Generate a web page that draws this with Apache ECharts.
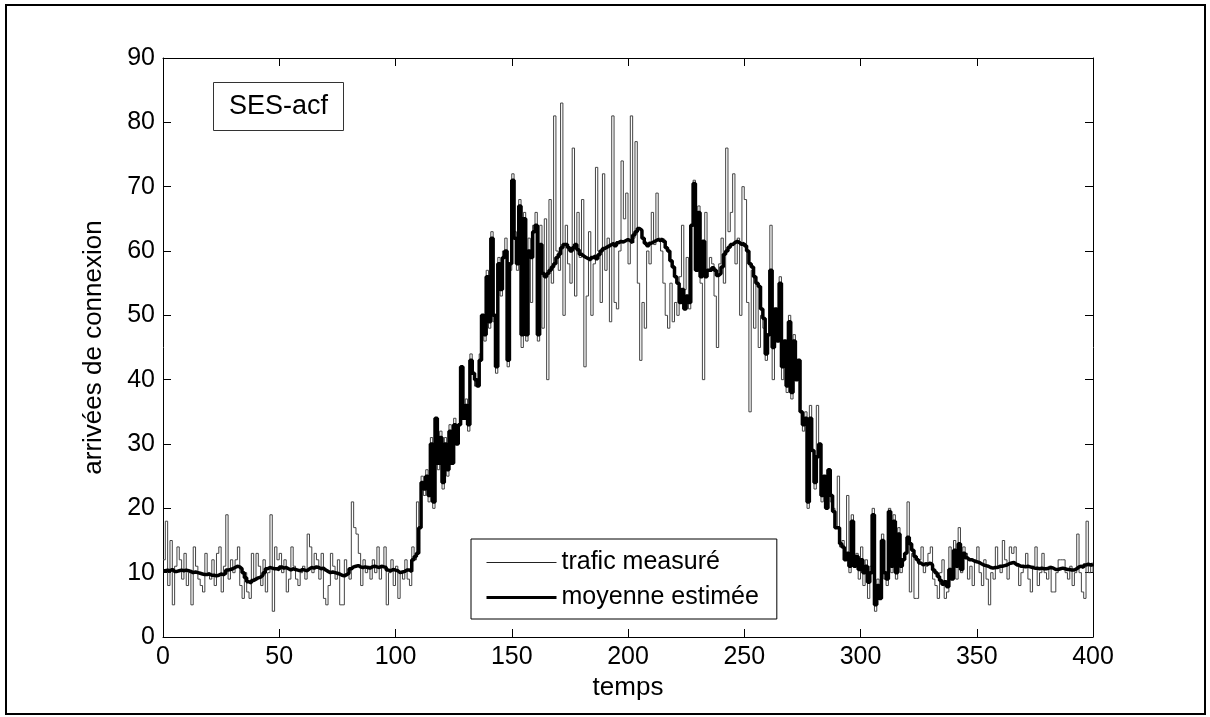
<!DOCTYPE html>
<html>
<head>
<meta charset="utf-8">
<title>SES-acf</title>
<script src="https://cdn.jsdelivr.net/npm/echarts@6/dist/echarts.min.js"></script>
<style>
    html, body { margin: 0; padding: 0; background: #fff; }
    #ses_acf { width: 1210px; height: 717px; }
</style>
</head>
<body>
<div id="ses_acf"></div>
<script>

// Chart data
// ------------------------------

// Mesured traffic, one value per time step (t = 0 .. 400)
var trafic = [
    12, 18, 8, 15, 5, 11, 14, 12, 9, 13,
    8, 10, 5, 14, 11, 9, 8, 7, 13, 10,
    9, 12, 8, 13, 14, 7, 11, 19, 9, 12,
    10, 12, 14, 8, 6, 10, 7, 6, 13, 9,
    13, 11, 8, 12, 7, 10, 19, 4, 14, 12,
    13, 10, 12, 7, 9, 14, 11, 9, 8, 10,
    11, 9, 16, 14, 10, 13, 12, 9, 13, 6,
    5, 8, 13, 11, 9, 12, 5, 5, 12, 10,
    9, 21, 17, 16, 13, 8, 12, 10, 11, 9,
    12, 10, 14, 9, 11, 14, 5, 10, 12, 8,
    11, 6, 10, 9, 12, 9, 8, 14, 12, 21,
    17, 25, 22, 26, 21, 31, 20, 34, 26, 32,
    23, 31, 25, 33, 27, 34, 30, 33, 42, 34,
    37, 32, 44, 41, 39, 39, 44, 50, 46, 57,
    48, 63, 49, 41, 59, 53, 60, 62, 42, 57,
    72, 63, 57, 68, 45, 66, 46, 62, 52, 64,
    66, 46, 64, 48, 65, 40, 68, 55, 81, 60,
    57, 83, 50, 64, 58, 55, 76, 53, 66, 59,
    68, 42, 53, 63, 50, 58, 73, 60, 52, 72,
    57, 62, 49, 81, 52, 51, 60, 74, 65, 69,
    58, 81, 62, 77, 55, 43, 52, 48, 60, 58,
    66, 61, 69, 62, 60, 55, 50, 48, 55, 49,
    52, 50, 56, 64, 54, 59, 51, 64, 71, 58,
    67, 55, 40, 66, 57, 59, 58, 53, 45, 58,
    62, 55, 76, 63, 66, 72, 58, 62, 50, 70,
    68, 52, 35, 57, 48, 55, 45, 50, 48, 43,
    47, 64, 40, 51, 46, 56, 40, 46, 38, 50,
    37, 47, 40, 43, 35, 32, 35, 20, 36, 29,
    23, 36, 30, 21, 25, 21, 26, 21, 20, 17,
    25, 14, 15, 12, 22, 10, 19, 11, 13, 9,
    14, 8, 12, 6, 11, 20, 4, 9, 6, 16,
    9, 8, 20, 10, 19, 9, 17, 10, 12, 13,
    21, 7, 13, 6, 6, 12, 14, 10, 11, 13,
    14, 9, 8, 6, 10, 12, 6, 7, 14, 10,
    15, 9, 17, 10, 14, 13, 9, 11, 8, 12,
    14, 10, 8, 12, 9, 5, 10, 9, 14, 11,
    10, 15, 12, 9, 14, 13, 14, 11, 8, 10,
    11, 13, 9, 7, 11, 14, 8, 10, 13, 10,
    9, 11, 7, 7, 10, 12, 12, 12, 10, 9,
    11, 8, 10, 16, 10, 7, 6, 18, 10, 11,
    10
];

// Estimated mean (SES-acf), same time steps
var moyenne = [
    10.3, 10.4, 10.3, 10.5, 10.2, 10.2, 10.3, 10.4, 10.3, 10.4,
    10.3, 10.2, 10.0, 10.1, 10.0, 9.9, 9.8, 9.7, 9.7, 9.8,
    9.6, 9.6, 9.5, 9.6, 9.8, 9.7, 9.9, 10.4, 10.5, 10.6,
    10.8, 11.0, 10.9, 10.6, 10.0, 9.2, 8.6, 8.4, 8.8, 9.0,
    9.2, 9.3, 9.6, 10.0, 10.6, 10.8, 10.7, 10.6, 10.6, 10.5,
    10.9, 10.7, 10.8, 10.6, 10.4, 10.6, 10.5, 10.4, 10.3, 10.5,
    10.4, 10.3, 10.6, 10.8, 10.7, 10.9, 10.8, 10.6, 10.7, 10.4,
    10.2, 10.0, 10.1, 10.0, 9.9, 9.8, 9.6, 9.5, 9.7, 9.9,
    10.6, 10.9, 11.0, 11.1, 10.9, 10.8, 10.9, 10.8, 10.7, 10.9,
    11.0, 10.9, 10.8, 11.0, 10.9, 10.8, 10.4, 10.3, 10.5, 10.4,
    10.3, 10.0, 10.1, 10.2, 10.4, 10.4, 10.2, 12, 12.5, 13,
    17, 24, 23, 25, 22, 30, 21, 34, 27, 31,
    24, 30, 26, 32, 27, 33, 30, 33, 42, 34,
    36, 33, 43, 41, 40, 39, 43, 50, 47, 56,
    49, 62, 50, 42, 58, 54, 59, 60, 43, 58,
    71, 62, 58, 67, 47, 65, 47, 60, 59, 63,
    64, 47, 61, 56.5, 56, 56.5, 57, 57.5, 58, 59,
    59.5, 60.5, 61, 61, 60.5, 60, 60.5, 61, 60.2, 59.5,
    59.2, 59, 58.8, 58.6, 59, 59.2, 58.8, 59.4, 60, 60.4,
    60.6, 60.8, 61, 61.2, 60.8, 61.3, 61.5, 61.4, 61.6, 61.8,
    61.6, 61.3, 62.5, 63, 63.5, 63.2, 62, 61.2, 60.8, 61.2,
    61.4, 61.6, 61.8, 61.6, 61.9, 61.5, 60.5, 60, 58.5, 57.5,
    56, 55, 52, 54, 51, 53, 52, 64, 70.5, 57,
    66, 56, 61.5, 56, 57, 57, 57.4, 57, 56.2, 56.5,
    57.5, 59.5, 60, 60.6, 61, 61.3, 61.5, 61.3, 61, 61.2,
    60.8, 60, 58, 57.5, 56, 55, 54.5, 51, 49.5, 44,
    47, 57, 45, 51, 46, 55, 42, 46, 39, 49,
    38, 46, 40, 43, 35, 33, 34, 21, 34, 29,
    24, 28, 30, 22, 25, 20, 26, 22, 19.5, 17,
    17, 14.5, 14, 12, 13, 11, 18, 11, 12.5, 10.5,
    12, 10, 11, 8.5, 10, 19, 5, 8, 6, 15,
    10, 9, 19.5, 11, 18, 10, 16, 11, 12, 13,
    15.5, 14.5, 13.5, 12.5, 12, 11.5, 11.2, 11.4, 11.3, 11.5,
    11.2, 10.4, 10, 9.4, 8.8, 8.2, 8.6, 7.8, 10.5, 9,
    13.5, 11, 14.5, 10.5, 13, 12.3, 12, 12, 11.8, 11.7,
    11.6, 11.4, 11.2, 11.1, 11, 10.8, 10.7, 10.8, 10.8, 11,
    11, 11.1, 11.2, 11.4, 11.5, 11.6, 11.3, 11.2, 11, 11,
    10.9, 11, 10.9, 10.8, 10.7, 10.7, 10.6, 10.7, 10.6, 10.6,
    10.7, 10.8, 10.7, 10.5, 10.5, 10.6, 10.7, 10.6, 10.5, 10.5,
    10.4, 10.4, 10.6, 10.9, 11.0, 10.8, 11.2, 11.3, 11.2, 11.3,
    11.3
];

// Axis ticks
var xTicks = [0, 400, 50];   // min, max, interval
var yTicks = [0, 90, 10];

// Series names
var seriesNames = ['trafic measuré', 'moyenne estimée'];


// Setup module
// ------------------------------

var EchartsSesAcf = function() {

    var _sesAcfExample = function() {
        if (typeof echarts == 'undefined') {
            console.warn('Warning - echarts.min.js is not loaded.');
            return;
        }

        // Define element
        var ses_acf_element = document.getElementById('ses_acf');

        if (ses_acf_element) {

            // Initialize chart
            var ses_acf = echarts.init(ses_acf_element, null, { renderer: 'canvas' });

            var fontFamily = '"Liberation Sans", Arial, sans-serif';

            // Pair each value with its time step
            var toPoints = function(values) {
                return values.map(function(v, i) { return [i, v]; });
            };

            // Common axis styles (matlab like box, ticks inside)
            var axisLine = { show: true, onZero: false, lineStyle: { color: '#000', width: 1 } };
            var axisTick = { show: true, inside: true, length: 8, lineStyle: { color: '#000', width: 1 } };
            var axisLabel = { color: '#000', fontSize: 25, fontFamily: fontFamily, margin: 8 };

            // Options
            ses_acf.setOption({

                animation: false,
                backgroundColor: '#fff',

                textStyle: {
                    fontFamily: fontFamily,
                    color: '#000'
                },

                // Setup grid
                grid: {
                    left: 163,
                    right: 117,
                    top: 58,
                    bottom: 80
                },

                // Label box in the corner
                title: {
                    text: 'SES-acf',
                    left: 213,
                    top: 82,
                    padding: [11, 16],
                    borderColor: '#333',
                    borderWidth: 1,
                    backgroundColor: '#fff',
                    textStyle: {
                        fontSize: 27,
                        fontWeight: 'normal',
                        fontFamily: fontFamily,
                        color: '#000'
                    }
                },

                // Legend (line samples only, no marker)
                legend: {
                    orient: 'vertical',
                    left: 471,
                    top: 539,
                    padding: [11, 18, 9, 14],
                    itemGap: 10,
                    itemWidth: 70,
                    itemHeight: 14,
                    borderColor: '#000',
                    borderWidth: 1,
                    backgroundColor: '#fff',
                    itemStyle: { opacity: 0 },
                    textStyle: {
                        fontSize: 25,
                        lineHeight: 25,
                        fontFamily: fontFamily,
                        color: '#000'
                    },
                    data: [
                        { name: seriesNames[0], lineStyle: { color: '#222', width: 1 } },
                        { name: seriesNames[1], lineStyle: { color: '#000', width: 3 } }
                    ]
                },

                // Horizontal axes
                xAxis: [{
                    type: 'value',
                    min: xTicks[0],
                    max: xTicks[1],
                    interval: xTicks[2],
                    position: 'bottom',
                    name: 'temps',
                    nameLocation: 'middle',
                    nameGap: 38,
                    nameTextStyle: { fontSize: 26, color: '#000', fontFamily: fontFamily },
                    axisLine: axisLine,
                    axisTick: axisTick,
                    axisLabel: axisLabel,
                    splitLine: { show: false }
                }, {
                    type: 'value',
                    min: xTicks[0],
                    max: xTicks[1],
                    interval: xTicks[2],
                    position: 'top',
                    axisLine: axisLine,
                    axisTick: axisTick,
                    axisLabel: { show: false },
                    splitLine: { show: false }
                }],

                // Vertical axes
                yAxis: [{
                    type: 'value',
                    min: yTicks[0],
                    max: yTicks[1],
                    interval: yTicks[2],
                    position: 'left',
                    name: 'arrivées de connexion',
                    nameLocation: 'middle',
                    nameGap: 56,
                    nameTextStyle: { fontSize: 26, color: '#000', fontFamily: fontFamily },
                    axisLine: axisLine,
                    axisTick: axisTick,
                    axisLabel: axisLabel,
                    splitLine: { show: false }
                }, {
                    type: 'value',
                    min: yTicks[0],
                    max: yTicks[1],
                    interval: yTicks[2],
                    position: 'right',
                    axisLine: axisLine,
                    axisTick: axisTick,
                    axisLabel: { show: false },
                    splitLine: { show: false }
                }],

                // Outer frame of the figure
                graphic: [{
                    type: 'rect',
                    silent: true,
                    shape: { x: 6, y: 5, width: 1199, height: 709 },
                    style: { fill: 'none', stroke: '#000', lineWidth: 2 }
                }],

                // Add series
                series: [
                    {
                        name: seriesNames[0],
                        type: 'line',
                        step: 'end',
                        symbol: 'none',
                        xAxisIndex: 0,
                        yAxisIndex: 0,
                        lineStyle: { color: '#444', width: 1 },
                        itemStyle: { color: '#000' },
                        data: toPoints(trafic)
                    },
                    {
                        name: seriesNames[1],
                        type: 'line',
                        step: 'end',
                        symbol: 'none',
                        xAxisIndex: 0,
                        yAxisIndex: 0,
                        lineStyle: { color: '#000', width: 3.5 },
                        itemStyle: { color: '#000' },
                        data: toPoints(moyenne)
                    }
                ]
            });
        }
    };

    return {
        init: function() {
            _sesAcfExample();
        }
    }
}();


// Initialize module
// ------------------------------

document.addEventListener('DOMContentLoaded', function() {
    EchartsSesAcf.init();
});
</script>
</body>
</html>
